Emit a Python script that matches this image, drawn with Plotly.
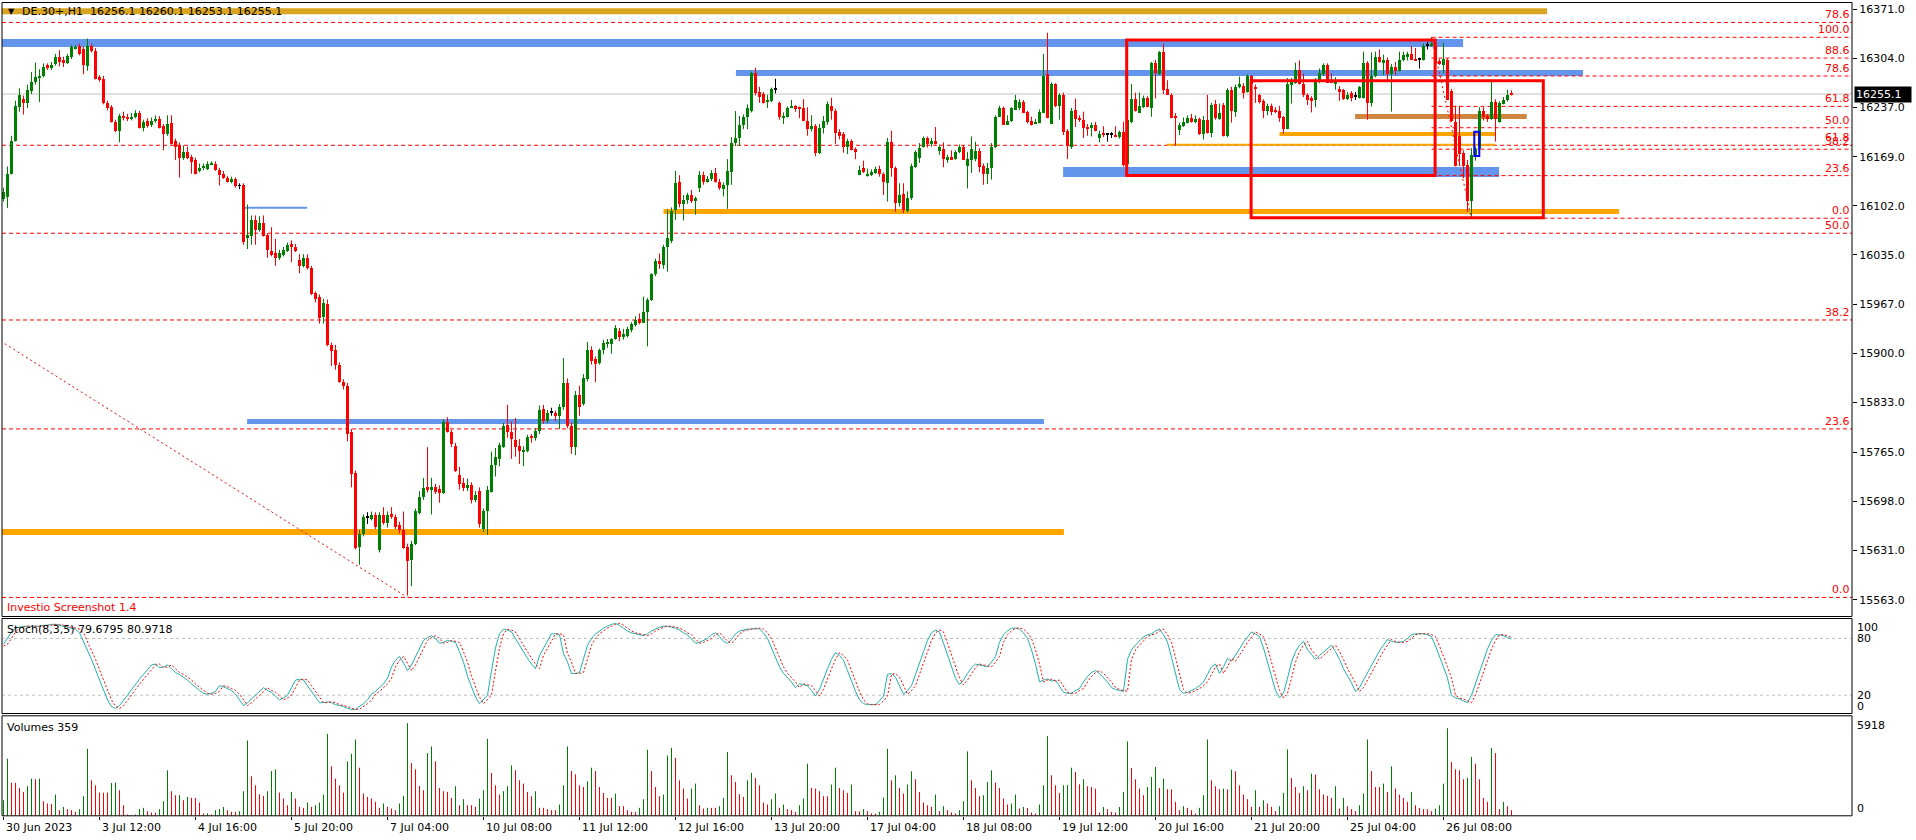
import plotly.graph_objects as go

W, H = 1916, 840

# H1 bars, oldest first
opens = [
    16112, 16115, 16147, 16192, 16238, 16249, 16244, 16260, 16272, 16278,
    16280, 16295, 16291, 16297, 16306, 16302, 16298, 16307, 16318, 16321,
    16318, 16294, 16321, 16315, 16279, 16276, 16244, 16238, 16218, 16205,
    16226, 16224, 16222, 16224, 16230, 16210, 16219, 16213, 16219, 16221,
    16212, 16201, 16216, 16191, 16186, 16168, 16176, 16169, 16165, 16150,
    16154, 16153, 16159, 16160, 16152, 16146, 16141, 16136, 16139, 16130,
    16131, 16059, 16062, 16083, 16070, 16080, 16063, 16041, 16039, 16032,
    16036, 16041, 16050, 16047, 16029, 16020, 16031, 16018, 15983, 15978,
    15951, 15968, 15912, 15906, 15885, 15862, 15857, 15793, 15738, 15636,
    15654, 15677, 15675, 15680, 15632, 15680, 15669, 15681, 15677, 15666,
    15659, 15636, 15619, 15640, 15683, 15704, 15718, 15714, 15718, 15716,
    15710, 15807, 15794, 15775, 15735, 15724, 15717, 15721, 15700, 15713,
    15661, 15685, 15712, 15749, 15757, 15773, 15803, 15794, 15783, 15774,
    15766, 15767, 15788, 15785, 15795, 15825, 15808, 15820, 15820, 15815,
    15827, 15860, 15801, 15773, 15844, 15832, 15866, 15906, 15894, 15888,
    15905, 15914, 15914, 15921, 15932, 15924, 15925, 15933, 15940, 15948,
    15943, 15958, 15974, 16009, 16027, 16022, 16046, 16055, 16097, 16135,
    16106, 16111, 16118, 16109, 16127, 16145, 16136, 16140, 16148, 16136,
    16126, 16132, 16149, 16189, 16196, 16213, 16225, 16233, 16284, 16258,
    16256, 16245, 16246, 16262, 16243, 16224, 16225, 16237, 16239, 16237,
    16237, 16219, 16208, 16212, 16175, 16209, 16218, 16240, 16233, 16204,
    16201, 16183, 16191, 16180, 16145, 16154, 16145, 16145, 16148, 16153,
    16146, 16134, 16190, 16154, 16107, 16119, 16096, 16113, 16156, 16168,
    16183, 16195, 16187, 16191, 16178, 16181, 16166, 16169, 16167, 16176,
    16183, 16158, 16165, 16167, 16178, 16157, 16146, 16154, 16184, 16225,
    16236, 16213, 16219, 16234, 16237, 16245, 16231, 16219, 16215, 16216,
    16230, 16283, 16215, 16269, 16239, 16255, 16205, 16184, 16234, 16223,
    16220, 16211, 16210, 16213, 16196, 16202, 16201, 16201, 16200, 16197,
    16204, 16160, 16218, 16249, 16230, 16238, 16250, 16237, 16298, 16283,
    16313, 16262, 16254, 16225, 16207, 16212, 16216, 16223, 16217, 16222,
    16201, 16220, 16202, 16242, 16222, 16241, 16198, 16261, 16231, 16265,
    16267, 16258, 16280, 16266, 16254, 16246, 16232, 16239, 16234, 16233,
    16224, 16208, 16268, 16271, 16288, 16269, 16254, 16250, 16247, 16274,
    16283, 16295, 16275, 16270, 16263, 16261, 16249, 16257, 16252, 16251,
    16251, 16298, 16243, 16280, 16306, 16298, 16302, 16283, 16293, 16287,
    16302, 16307, 16310, 16304, 16303, 16303, 16322, 16321, 16323, 16301,
    16296, 16302, 16260, 16217, 16199, 16175, 16159, 16110, 16171, 16181,
    16233, 16226, 16221, 16245, 16217, 16242, 16247, 16256.1,
]
highs = [
    16127, 16156, 16198, 16246, 16263, 16253, 16268, 16285, 16298, 16289,
    16297, 16297, 16299, 16310, 16315, 16306, 16310, 16322, 16322, 16324,
    16320, 16331, 16324, 16318, 16281, 16280, 16246, 16240, 16220, 16228,
    16231, 16228, 16229, 16233, 16232, 16220, 16222, 16223, 16226, 16225,
    16214, 16226, 16226, 16194, 16189, 16185, 16183, 16172, 16168, 16160,
    16160, 16163, 16163, 16163, 16154, 16150, 16143, 16142, 16141, 16133,
    16133, 16104, 16089, 16089, 16088, 16089, 16065, 16073, 16057, 16042,
    16046, 16052, 16055, 16050, 16036, 16036, 16036, 16020, 15985, 15981,
    15975, 15974, 15915, 15912, 15888, 15865, 15860, 15797, 15740, 15659,
    15680, 15683, 15684, 15683, 15683, 15690, 15684, 15690, 15680, 15670,
    15684, 15640, 15644, 15688, 15712, 15730, 15772, 15730, 15722, 15720,
    15810, 15813, 15796, 15778, 15745, 15730, 15729, 15724, 15712, 15717,
    15688, 15719, 15766, 15771, 15778, 15805, 15830, 15807, 15812, 15783,
    15773, 15789, 15790, 15798, 15829, 15830, 15823, 15826, 15822, 15831,
    15894, 15866, 15806, 15849, 15856, 15872, 15916, 15910, 15896, 15907,
    15919, 15920, 15921, 15939, 15935, 15934, 15937, 15943, 15951, 15955,
    15978, 15976, 16010, 16030, 16037, 16049, 16097, 16100, 16150, 16144,
    16117, 16120, 16124, 16115, 16150, 16149, 16143, 16151, 16154, 16139,
    16134, 16166, 16196, 16232, 16225, 16227, 16241, 16286, 16291, 16265,
    16258, 16254, 16264, 16276, 16245, 16230, 16238, 16247, 16240, 16238,
    16248, 16237, 16226, 16214, 16214, 16225, 16245, 16250, 16235, 16207,
    16203, 16194, 16193, 16182, 16157, 16164, 16153, 16152, 16156, 16157,
    16148, 16195, 16205, 16156, 16133, 16133, 16122, 16160, 16178, 16188,
    16197, 16197, 16195, 16210, 16186, 16189, 16172, 16178, 16178, 16186,
    16185, 16176, 16197, 16190, 16181, 16160, 16161, 16188, 16226, 16239,
    16238, 16226, 16237, 16254, 16248, 16247, 16232, 16224, 16221, 16234,
    16310, 16339, 16271, 16270, 16256, 16257, 16207, 16236, 16249, 16226,
    16231, 16214, 16216, 16217, 16205, 16211, 16202, 16203, 16211, 16205,
    16217, 16222, 16269, 16257, 16257, 16253, 16252, 16299, 16302, 16314,
    16324, 16274, 16256, 16229, 16216, 16223, 16226, 16228, 16226, 16223,
    16225, 16254, 16243, 16247, 16242, 16243, 16263, 16265, 16268, 16279,
    16270, 16282, 16281, 16268, 16255, 16248, 16242, 16242, 16237, 16239,
    16225, 16277, 16277, 16298, 16301, 16283, 16256, 16252, 16277, 16290,
    16297, 16297, 16283, 16278, 16266, 16262, 16258, 16259, 16258, 16266,
    16313, 16300, 16312, 16313, 16316, 16309, 16305, 16296, 16299, 16313,
    16313, 16313, 16321, 16318, 16305, 16324, 16327, 16333, 16328, 16303,
    16325, 16304, 16262, 16239, 16239, 16178, 16165, 16181, 16183, 16237,
    16237, 16228, 16272, 16248, 16245, 16251, 16261, 16260.1,
]
lows = [
    16108, 16099, 16145, 16190, 16231, 16227, 16236, 16255, 16268, 16244,
    16278, 16288, 16288, 16294, 16293, 16292, 16296, 16303, 16316, 16308,
    16282, 16287, 16312, 16275, 16272, 16241, 16233, 16216, 16203, 16189,
    16219, 16218, 16219, 16222, 16208, 16204, 16209, 16210, 16216, 16208,
    16178, 16198, 16186, 16165, 16141, 16165, 16166, 16146, 16145, 16148,
    16151, 16151, 16158, 16150, 16130, 16139, 16134, 16133, 16127, 16125,
    16049, 16043, 16049, 16049, 16067, 16060, 16031, 16033, 16020, 16028,
    16033, 16039, 16025, 16039, 16010, 16018, 16015, 15980, 15970, 15941,
    15941, 15910, 15883, 15878, 15860, 15851, 15780, 15717, 15632, 15611,
    15650, 15667, 15672, 15660, 15628, 15666, 15662, 15674, 15660, 15654,
    15633, 15569, 15582, 15638, 15680, 15700, 15710, 15680, 15708, 15696,
    15708, 15792, 15772, 15738, 15714, 15712, 15712, 15695, 15697, 15662,
    15656, 15652, 15710, 15732, 15746, 15771, 15785, 15756, 15759, 15749,
    15746, 15765, 15778, 15781, 15790, 15804, 15805, 15815, 15808, 15797,
    15823, 15798, 15763, 15761, 15815, 15829, 15862, 15885, 15861, 15885,
    15899, 15908, 15900, 15919, 15917, 15919, 15922, 15929, 15937, 15940,
    15942, 15910, 15972, 16006, 16016, 16016, 16012, 16051, 16083, 16100,
    16082, 16105, 16106, 16090, 16121, 16131, 16134, 16136, 16134, 16124,
    16115, 16098, 16131, 16184, 16184, 16207, 16207, 16230, 16253, 16243,
    16242, 16236, 16244, 16256, 16220, 16214, 16223, 16236, 16231, 16222,
    16218, 16198, 16204, 16170, 16173, 16201, 16213, 16220, 16187, 16193,
    16175, 16173, 16178, 16166, 16144, 16147, 16142, 16143, 16146, 16142,
    16117, 16108, 16142, 16094, 16101, 16092, 16093, 16110, 16154, 16161,
    16182, 16182, 16183, 16186, 16172, 16155, 16161, 16165, 16165, 16174,
    16165, 16126, 16147, 16163, 16148, 16131, 16132, 16138, 16181, 16224,
    16213, 16213, 16217, 16233, 16233, 16229, 16215, 16212, 16214, 16215,
    16230, 16222, 16214, 16237, 16220, 16199, 16166, 16180, 16210, 16217,
    16195, 16198, 16197, 16204, 16189, 16196, 16190, 16195, 16196, 16194,
    16156, 16157, 16215, 16231, 16229, 16236, 16237, 16224, 16249, 16281,
    16255, 16254, 16222, 16184, 16199, 16210, 16215, 16216, 16215, 16199,
    16193, 16201, 16196, 16220, 16220, 16197, 16196, 16216, 16224, 16263,
    16249, 16257, 16265, 16243, 16242, 16222, 16226, 16226, 16229, 16217,
    16201, 16207, 16242, 16269, 16268, 16251, 16240, 16230, 16237, 16270,
    16280, 16270, 16270, 16261, 16246, 16247, 16247, 16245, 16247, 16249,
    16249, 16220, 16238, 16278, 16298, 16281, 16274, 16231, 16281, 16286,
    16300, 16301, 16302, 16301, 16290, 16301, 16316, 16320, 16295, 16295,
    16283, 16247, 16217, 16156, 16157, 16140, 16094, 16085, 16164, 16179,
    16219, 16217, 16220, 16190, 16216, 16241, 16245, 16253.1,
]
closes = [
    16122, 16147, 16192, 16239, 16255, 16244, 16261, 16272, 16279, 16280,
    16293, 16291, 16296, 16307, 16300, 16298, 16308, 16320, 16320, 16310,
    16295, 16322, 16315, 16277, 16275, 16243, 16236, 16218, 16205, 16226,
    16223, 16222, 16225, 16230, 16210, 16218, 16212, 16219, 16221, 16210,
    16201, 16215, 16188, 16184, 16168, 16176, 16168, 16163, 16147, 16155,
    16157, 16160, 16161, 16152, 16145, 16141, 16136, 16139, 16130, 16130,
    16054, 16063, 16084, 16070, 16080, 16062, 16042, 16036, 16032, 16039,
    16042, 16049, 16046, 16041, 16020, 16031, 16018, 15982, 15975, 15950,
    15970, 15912, 15904, 15885, 15862, 15857, 15791, 15736, 15635, 15654,
    15677, 15677, 15680, 15663, 15680, 15669, 15680, 15677, 15664, 15659,
    15635, 15617, 15640, 15685, 15704, 15717, 15714, 15718, 15711, 15710,
    15807, 15794, 15777, 15740, 15723, 15717, 15721, 15701, 15707, 15668,
    15685, 15714, 15749, 15759, 15776, 15801, 15794, 15784, 15773, 15767,
    15769, 15787, 15785, 15795, 15824, 15808, 15820, 15820, 15815, 15828,
    15861, 15801, 15773, 15844, 15827, 15868, 15906, 15891, 15886, 15906,
    15915, 15916, 15921, 15936, 15924, 15927, 15934, 15941, 15946, 15943,
    15958, 15974, 16009, 16027, 16023, 16047, 16059, 16096, 16134, 16106,
    16111, 16118, 16109, 16113, 16145, 16136, 16140, 16148, 16136, 16127,
    16132, 16151, 16189, 16196, 16213, 16225, 16236, 16285, 16257, 16252,
    16244, 16247, 16262, 16262, 16224, 16226, 16237, 16239, 16235, 16236,
    16219, 16208, 16212, 16175, 16210, 16219, 16242, 16233, 16203, 16199,
    16184, 16191, 16179, 16176, 16152, 16149, 16146, 16149, 16153, 16146,
    16135, 16190, 16154, 16107, 16118, 16097, 16114, 16157, 16176, 16182,
    16196, 16187, 16191, 16187, 16183, 16167, 16169, 16166, 16176, 16184,
    16166, 16167, 16181, 16178, 16156, 16146, 16155, 16184, 16225, 16237,
    16214, 16219, 16236, 16247, 16245, 16230, 16217, 16214, 16217, 16231,
    16280, 16223, 16269, 16239, 16255, 16204, 16185, 16233, 16221, 16220,
    16210, 16208, 16214, 16205, 16201, 16200, 16201, 16201, 16197, 16204,
    16159, 16220, 16249, 16232, 16239, 16251, 16238, 16298, 16284, 16313,
    16261, 16255, 16223, 16223, 16213, 16217, 16223, 16217, 16222, 16201,
    16220, 16202, 16241, 16223, 16230, 16198, 16261, 16232, 16265, 16269,
    16257, 16280, 16269, 16263, 16245, 16232, 16239, 16231, 16231, 16223,
    16208, 16269, 16275, 16289, 16269, 16254, 16248, 16246, 16275, 16284,
    16295, 16271, 16271, 16272, 16258, 16249, 16255, 16251, 16252, 16265,
    16298, 16243, 16280, 16306, 16299, 16302, 16283, 16293, 16287, 16303,
    16309, 16311, 16303, 16302, 16303, 16321, 16322, 16324, 16298, 16297,
    16304, 16248, 16219, 16157, 16174, 16157, 16109, 16173, 16181, 16233,
    16225, 16222, 16245, 16221, 16243, 16247, 16255, 16255.1,
]

stoch_main = [
    74, 80, 87, 91, 92, 93, 93, 93, 93, 93,
    94, 94, 95, 95, 94, 93, 92, 91, 90, 86,
    77, 68, 58, 47, 37, 25, 15, 8, 6, 9,
    14, 20, 26, 32, 37, 42, 47, 52, 53, 49,
    50, 52, 48, 44, 42, 39, 36, 32, 28, 25,
    22, 21, 22, 24, 30, 29, 27, 25, 21, 15,
    9, 12, 16, 20, 24, 28, 25, 23, 19, 15,
    17, 20, 28, 36, 37, 36, 30, 24, 18, 12,
    12, 13, 12, 10, 9, 8, 6, 5, 5, 8,
    11, 15, 21, 24, 28, 32, 38, 50, 57, 61,
    54, 46, 52, 61, 70, 78, 81, 83, 80, 75,
    76, 78, 77, 76, 66, 55, 40, 28, 18, 11,
    16, 20, 46, 70, 85, 90, 89, 87, 80, 73,
    65, 59, 53, 48, 62, 70, 78, 85, 85, 84,
    64, 55, 43, 43, 44, 58, 73, 80, 85, 88,
    91, 93, 95, 96, 94, 91, 88, 86, 85, 84,
    83, 85, 88, 90, 92, 93, 93, 92, 91, 89,
    86, 84, 79, 75, 76, 78, 80, 84, 86, 82,
    77, 75, 79, 85, 88, 89, 90, 90, 91, 90,
    86, 80, 70, 60, 50, 43, 39, 34, 28, 32,
    31, 30, 25, 19, 26, 38, 48, 58, 65, 62,
    57, 46, 34, 24, 15, 11, 10, 10, 10, 14,
    19, 42, 43, 39, 30, 21, 25, 30, 42, 53,
    66, 78, 86, 89, 87, 75, 62, 50, 38, 31,
    36, 43, 49, 53, 52, 51, 50, 55, 61, 76,
    84, 88, 91, 91, 90, 86, 80, 68, 53, 34,
    36, 37, 35, 36, 30, 23, 22, 22, 25, 27,
    34, 40, 44, 46, 43, 39, 34, 28, 26, 25,
    24, 58, 68, 73, 78, 82, 84, 85, 88, 90,
    84, 76, 60, 42, 26, 22, 23, 25, 27, 30,
    34, 42, 50, 53, 43, 50, 59, 56, 62, 69,
    76, 82, 87, 85, 82, 70, 55, 40, 25, 17,
    22, 38, 55, 66, 73, 77, 68, 63, 58, 62,
    66, 70, 73, 66, 58, 48, 41, 33, 24, 28,
    36, 44, 52, 60, 67, 73, 79, 77, 76, 76,
    77, 80, 84, 85, 85, 85, 84, 82, 72, 62,
    50, 38, 20, 17, 16, 14, 12, 20, 32, 43,
    56, 69, 78, 84, 84, 83, 81, 79.6795,
]
stoch_signal = [
    72, 74, 80, 87, 91, 92, 93, 93, 93, 93,
    93, 94, 94, 95, 95, 94, 93, 92, 91, 90,
    86, 77, 68, 58, 47, 37, 25, 15, 8, 6,
    9, 14, 20, 26, 32, 37, 42, 47, 52, 53,
    49, 50, 52, 48, 44, 42, 39, 36, 32, 28,
    25, 22, 21, 22, 24, 30, 29, 27, 25, 21,
    15, 9, 12, 16, 20, 24, 28, 25, 23, 19,
    15, 17, 20, 28, 36, 37, 36, 30, 24, 18,
    12, 12, 13, 12, 10, 9, 8, 6, 5, 5,
    8, 11, 15, 21, 24, 28, 32, 38, 50, 57,
    61, 54, 46, 52, 61, 70, 78, 81, 83, 80,
    75, 76, 78, 77, 76, 66, 55, 40, 28, 18,
    11, 16, 20, 46, 70, 85, 90, 89, 87, 80,
    73, 65, 59, 53, 48, 62, 70, 78, 85, 85,
    84, 64, 55, 43, 43, 44, 58, 73, 80, 85,
    88, 91, 93, 95, 96, 94, 91, 88, 86, 85,
    84, 83, 85, 88, 90, 92, 93, 93, 92, 91,
    89, 86, 84, 79, 75, 76, 78, 80, 84, 86,
    82, 77, 75, 79, 85, 88, 89, 90, 90, 91,
    90, 86, 80, 70, 60, 50, 43, 39, 34, 28,
    32, 31, 30, 25, 19, 26, 38, 48, 58, 65,
    62, 57, 46, 34, 24, 15, 11, 10, 10, 10,
    14, 19, 42, 43, 39, 30, 21, 25, 30, 42,
    53, 66, 78, 86, 89, 87, 75, 62, 50, 38,
    31, 36, 43, 49, 53, 52, 51, 50, 55, 61,
    76, 84, 88, 91, 91, 90, 86, 80, 68, 53,
    34, 36, 37, 35, 36, 30, 23, 22, 22, 25,
    27, 34, 40, 44, 46, 43, 39, 34, 28, 26,
    25, 24, 58, 68, 73, 78, 82, 84, 85, 88,
    90, 84, 76, 60, 42, 26, 22, 23, 25, 27,
    30, 34, 42, 50, 53, 43, 50, 59, 56, 62,
    69, 76, 82, 87, 85, 82, 70, 55, 40, 25,
    17, 22, 38, 55, 66, 73, 77, 68, 63, 58,
    62, 66, 70, 73, 66, 58, 48, 41, 33, 24,
    28, 36, 44, 52, 60, 67, 73, 79, 77, 76,
    76, 77, 80, 84, 85, 85, 85, 84, 82, 72,
    62, 50, 38, 20, 17, 16, 14, 12, 20, 32,
    43, 56, 69, 78, 84, 84, 83, 80.9718,
]
volumes = [
    996, 3646, 2120, 2100, 1781, 1526, 1887, 2374, 2332, 2374,
    933, 784, 760, 1357, 360, 572, 424, 360, 254, 424,
    1251, 4282, 2268, 1950, 1484, 1480, 1475, 2099, 2120, 1632,
    678, 85, 42, 85, 424, 509, 297, 212, 200, 424,
    933, 2904, 1569, 1314, 1330, 996, 1208, 1150, 1145, 848,
    148, 160, 85, 360, 424, 572, 360, 254, 250, 297,
    1569, 4812, 2523, 1950, 1378, 1272, 1569, 2862, 2968, 1484,
    1102, 678, 1526, 1102, 572, 509, 848, 572, 678, 848,
    1357, 5236, 3159, 2374, 1950, 1484, 3477, 3964, 4876, 3074,
    1420, 1208, 1102, 890, 509, 784, 572, 466, 360, 784,
    1272, 5918, 3371, 2968, 1908, 1632, 4007, 4431, 3477, 1781,
    1569, 1526, 1145, 1887, 678, 1060, 678, 678, 572, 1102,
    1632, 4918, 2735, 1950, 1357, 1569, 1887, 3222, 2904, 2268,
    2056, 1526, 1251, 1569, 509, 509, 424, 360, 360, 721,
    1950, 4431, 2862, 2650, 1950, 1844, 2205, 3074, 2862, 1844,
    1463, 1145, 1145, 1420, 615, 615, 360, 254, 254, 509,
    1060, 4219, 2862, 1844, 1251, 1357, 3858, 4346, 3710, 2268,
    1738, 1102, 1738, 2056, 678, 466, 509, 509, 509, 615,
    1145, 4070, 2586, 2162, 1378, 1208, 2268, 2735, 2417, 1950,
    848, 721, 1060, 1420, 509, 721, 424, 360, 254, 678,
    1102, 3328, 1781, 1738, 1569, 1251, 1251, 1993, 3074, 1781,
    1632, 1463, 1993, 297, 290, 424, 297, 148, 140, 254,
    1166, 4282, 2268, 2586, 1781, 1420, 1993, 2841, 2332, 1526,
    848, 678, 572, 1357, 297, 615, 360, 212, 148, 360,
    933, 4113, 2268, 1781, 1251, 1314, 2162, 2904, 2120, 1781,
    1102, 721, 784, 1357, 466, 572, 509, 212, 148, 721,
    1950, 5088, 2586, 1950, 1463, 1950, 1960, 3074, 2798, 2014,
    2332, 1887, 1844, 1738, 212, 572, 424, 254, 212, 572,
    1526, 4749, 3053, 2332, 1738, 1314, 1844, 2480, 3116, 1781,
    2374, 1696, 1690, 890, 360, 615, 509, 360, 148, 509,
    1314, 4876, 2268, 1887, 1696, 1738, 1690, 2947, 2841, 1950,
    1357, 1060, 572, 1632, 572, 996, 784, 572, 297, 615,
    1463, 4240, 2417, 1844, 1463, 1887, 1632, 2692, 2629, 1696,
    1357, 1272, 1145, 1887, 466, 1145, 615, 424, 297, 678,
    1420, 4876, 2862, 1844, 1840, 2056, 1526, 3159, 1738, 1357,
    1145, 890, 1526, 678, 509, 424, 420, 297, 466, 678,
    2056, 5597, 3434, 2968, 2904, 2332, 2417, 3752, 3328, 2332,
    1145, 890, 4325, 4007, 424, 890, 615, 359,
]

date_labels = [
    "30 Jun 2023", "3 Jul 12:00", "4 Jul 16:00", "5 Jul 20:00", "7 Jul 04:00",
    "10 Jul 08:00", "11 Jul 12:00", "12 Jul 16:00", "13 Jul 20:00", "17 Jul 04:00",
    "18 Jul 08:00", "19 Jul 12:00", "20 Jul 16:00", "21 Jul 20:00", "25 Jul 04:00",
    "26 Jul 08:00",
]
bars_per_label = 24
price_ticks = [16371, 16304, 16237, 16169, 16102, 16035, 15967, 15900,
               15833, 15765, 15698, 15631, 15563]
bid_price = 16255.1
last_bar = [16256.1, 16260.1, 16253.1, 16255.1]
stoch_ticks = ["100", "80", "20", "0"]
volume_ticks = ["5918", "0"]

# Fibonacci retracements
fib_long_levels = ["0.0", "23.6", "38.2", "50.0", "61.8", "78.6"]
fib_long_prices = [15566.5, 15797, 15946, 16064.7, 16185, 16353]
fib_long_anchor_bars = [-189, 101]
fib_long_anchor_prices = [16566, 15566.5]

fib_short_levels = ["0.0", "23.6", "38.2", "50.0", "61.8", "78.6", "88.6", "100.0"]
fib_short_prices = [16085.2, 16143.5, 16179.6, 16209, 16238.2, 16279.8, 16304.3, 16332.7]
fib_short_anchor_bars = [357, 367]
fib_short_anchor_prices = [16332.7, 16085.2]

# support / resistance zones drawn as thick lines
zone_kinds = ["gold", "blue", "blue", "blue", "blue", "blue",
              "orange", "orange", "orange", "orange", "peru"]
zone_prices = [16368.5, 16325, 16284, 16148.5, 16099.7, 15807,
               15656, 16094.5, 16200.4, 16185.7, 16224.4]
zone_from = [-1, -1, 183.1, 264.9, 60.4, 60.9, -1, 165, 319, 290.8, 337.9]
zone_to = [385.9, 364.9, 394.9, 373.9, 75.9, 260.1, 265.1, 403.9, 372.9, 372.9, 380.8]

# rectangles
box_kinds = ["red", "red", "blue"]
box_from = [280.8, 311.9, 367.7]
box_to = [357.9, 384.95, 368.95]
box_low = [16143.5, 16086, 16170.4]
box_high = [16329, 16273.4, 16203.6]


# ---------------------------------------------------------------- drawing
def fx(px):
    return px / W


def fy(py):
    return 1 - py / H


GREEN = "#008000"
RED = "#ff0000"
FONT = "DejaVu Sans"
LEFT, RIGHT = 2, 1852
MAIN_TOP, MAIN_BOTTOM = 2.5, 616.5
STOCH_TOP, STOCH_BOTTOM = 618.5, 713.5
VOL_TOP, VOL_BOTTOM = 715.8, 815.8
X_RANGE = [-0.375, -0.375 + (RIGHT - LEFT) / 4]

n = len(closes)
bars = list(range(n))

fig = go.Figure()

groups = {GREEN: [], RED: [], "#000000": []}
for i in bars:
    if closes[i] > opens[i]:
        groups[GREEN].append(i)
    elif closes[i] < opens[i]:
        groups[RED].append(i)
    else:
        groups["#000000"].append(i)

for col, idx in groups.items():
    wx, wy = [], []
    for i in idx:
        wx += [i, i, None]
        wy += [lows[i], highs[i], None]
    fig.add_trace(go.Scatter(x=wx, y=wy, mode="lines", line=dict(color=col, width=1),
                             xaxis="x", yaxis="y", hoverinfo="skip"))
for col, idx in groups.items():
    fig.add_trace(go.Bar(
        x=idx,
        base=[min(opens[i], closes[i]) for i in idx],
        y=[max(abs(closes[i] - opens[i]), 1.3) for i in idx],
        width=0.75, marker=dict(color=col, line=dict(width=0)),
        xaxis="x", yaxis="y", hoverinfo="skip"))

# stochastic
fig.add_trace(go.Scatter(x=bars, y=stoch_main, mode="lines",
                         line=dict(color="#20b2aa", width=1), xaxis="x", yaxis="y2",
                         hoverinfo="skip"))
fig.add_trace(go.Scatter(x=bars, y=stoch_signal, mode="lines",
                         line=dict(color=RED, width=1, dash="2px,2px"), xaxis="x", yaxis="y2",
                         hoverinfo="skip"))

# volumes, coloured by change against the previous bar
vol_cols = {GREEN: ([], []), RED: ([], [])}
for i in bars:
    col = GREEN if i == 0 or volumes[i] > volumes[i - 1] else RED
    vol_cols[col][0].extend([i, i, None])
    vol_cols[col][1].extend([0, volumes[i], None])
for col, (vx, vy) in vol_cols.items():
    fig.add_trace(go.Scatter(x=vx, y=vy, mode="lines", line=dict(color=col, width=1),
                             xaxis="x", yaxis="y3", hoverinfo="skip"))

shapes = []
for top, bottom in [(MAIN_TOP, MAIN_BOTTOM), (STOCH_TOP, STOCH_BOTTOM), (VOL_TOP, VOL_BOTTOM)]:
    shapes.append(dict(type="rect", xref="paper", yref="paper", x0=fx(LEFT), x1=fx(RIGHT),
                       y0=fy(bottom), y1=fy(top), line=dict(color="black", width=1),
                       layer="above"))

shapes.append(dict(type="line", xref="paper", yref="y", x0=fx(LEFT), x1=fx(RIGHT),
                   y0=bid_price, y1=bid_price, line=dict(color="#c0c0c0", width=1),
                   layer="below"))

zone_colours = {"gold": "#daa520", "blue": "#6495ed", "orange": "#ffa500", "peru": "#cd853f"}
zone_widths = [6, 8, 6, 10, 2, 5, 6, 5, 4, 2, 5]
for kind, p, a, b, w in zip(zone_kinds, zone_prices, zone_from, zone_to, zone_widths):
    shapes.append(dict(type="line", xref="x", yref="y", x0=a, x1=b, y0=p, y1=p,
                       line=dict(color=zone_colours[kind], width=w), layer="below"))

fib_dash = "4px,3px"
for p in fib_long_prices:
    shapes.append(dict(type="line", xref="paper", yref="y", x0=fx(LEFT), x1=fx(RIGHT),
                       y0=p, y1=p, line=dict(color=RED, width=1, dash=fib_dash),
                       layer="below"))
for p in fib_short_prices:
    shapes.append(dict(type="line", xref="x", yref="y", x0=fib_short_anchor_bars[0],
                       x1=X_RANGE[1], y0=p, y1=p,
                       line=dict(color=RED, width=1, dash=fib_dash), layer="below"))
for ab, ap in [(fib_long_anchor_bars, fib_long_anchor_prices),
               (fib_short_anchor_bars, fib_short_anchor_prices)]:
    shapes.append(dict(type="line", xref="x", yref="y", x0=ab[0], x1=ab[1], y0=ap[0], y1=ap[1],
                       line=dict(color=RED, width=1, dash="2px,3px"), layer="above"))

box_colours = {"red": (RED, 3), "blue": ("#0000ff", 2)}
for kind, a, b, lo, hi in zip(box_kinds, box_from, box_to, box_low, box_high):
    col, w = box_colours[kind]
    shapes.append(dict(type="rect", xref="x", yref="y", x0=a, x1=b, y0=lo, y1=hi,
                       line=dict(color=col, width=w), layer="above"))

for lvl in (80, 20):
    shapes.append(dict(type="line", xref="paper", yref="y2", x0=fx(LEFT), x1=fx(RIGHT),
                       y0=lvl, y1=lvl, line=dict(color="#c0c0c0", width=1, dash="3px,3px"),
                       layer="below"))

ann = []


def text(x, y, s, color="black", size=11, xanchor="left", yanchor="middle", **kw):
    ann.append(dict(x=x, y=y, text=s, showarrow=False, xanchor=xanchor, yanchor=yanchor,
                    font=dict(family=FONT, size=size, color=color), **kw))


text(fx(6), fy(11.5), "▼", size=8, xref="paper", yref="paper")
text(fx(20), fy(12), "DE.30+,H1\u00a0\u00a0" + " ".join(f"{v:.1f}" for v in last_bar),
     xref="paper", yref="paper")
text(fx(5), fy(607.5), "Investio Screenshot 1.4", color=RED, xref="paper", yref="paper")
text(fx(5), fy(629.5), f"Stoch(8,3,5) {stoch_main[-1]} {stoch_signal[-1]}",
     xref="paper", yref="paper")
text(fx(5), fy(727), f"Volumes {volumes[-1]}", xref="paper", yref="paper")

for lbl, p in zip(fib_long_levels, fib_long_prices):
    text(fx(1851), p, lbl, color=RED, xanchor="right", yanchor="bottom",
         xref="paper", yref="y", borderpad=0)
for lbl, p in zip(fib_short_levels, fib_short_prices):
    text(fx(1851), p, lbl, color=RED, xanchor="right", yanchor="bottom",
         xref="paper", yref="y", borderpad=0)

text(fx(1854), bid_price, f"{bid_price:.1f}", color="white", xref="paper", yref="y",
     bgcolor="black", borderpad=1, width=54, align="left")

# right-hand labels of the indicator panels (MT4 nudges the end labels inward)
for s, py in zip(stoch_ticks + volume_ticks, [627, 638.3, 695.7, 706.7, 725.3, 808.7]):
    text(fx(1855), fy(py), s, xref="paper", yref="paper")

label_bars = [i * bars_per_label for i in range(len(date_labels))]
for b, s in zip(label_bars, date_labels):
    text(b, fy(827), s, xref="x", yref="paper")

fig.update_layout(
    width=W, height=H, margin=dict(l=0, r=0, t=0, b=0),
    paper_bgcolor="white", plot_bgcolor="white",
    showlegend=False, barmode="overlay", bargap=0, hovermode=False,
    font=dict(family=FONT, size=11, color="black"),
    xaxis=dict(domain=[fx(LEFT), fx(RIGHT)], range=X_RANGE, anchor="y3",
               showgrid=False, zeroline=False, showline=False, showticklabels=False,
               ticks="outside", ticklen=3, tickcolor="black", tickvals=label_bars),
    yaxis=dict(domain=[fy(MAIN_BOTTOM), fy(MAIN_TOP)], range=[15540.4, 16380.3],
               side="right", anchor="x", showgrid=False, zeroline=False, showline=False,
               tickvals=price_ticks, ticktext=[f"{v:.1f}" for v in price_ticks],
               ticks="outside", ticklen=4, tickcolor="black",
               tickfont=dict(family=FONT, size=11, color="black")),
    yaxis2=dict(domain=[fy(STOCH_BOTTOM), fy(STOCH_TOP)], range=[0.6, 101.2],
                side="right", anchor="x", showgrid=False, zeroline=False,
                showticklabels=False),
    yaxis3=dict(domain=[fy(VOL_BOTTOM), fy(VOL_TOP)], range=[0, 6389],
                side="right", anchor="x", showgrid=False, zeroline=False,
                showticklabels=False),
    shapes=shapes,
    annotations=ann,
)

fig.write_html("out.html", config={"displayModeBar": False},
               post_script="document.body.style.margin='0';")
